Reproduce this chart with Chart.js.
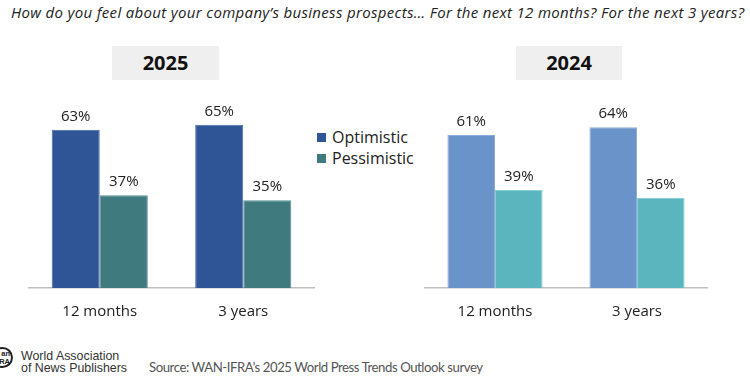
<!DOCTYPE html>
<html>
<head>
<meta charset="utf-8">
<script src="https://cdn.jsdelivr.net/npm/chart.js@4/dist/chart.umd.min.js"></script>
<style>
  html, body { margin:0; padding:0; background:#fff; }
  body { width:750px; height:379px; position:relative; overflow:hidden; font-family:'Open Sans', sans-serif; color:#222; }
  .abs { position:absolute; }
  #title { left:11px; top:2px; font-style:italic; font-size:15px; letter-spacing:0.33px; white-space:nowrap; color:#222; }
  .hdr { background:#EFEFEF; height:34px; line-height:34px; text-align:center; font-weight:bold; font-size:20px; color:#111; top:46px; }
  .leg { font-size:16px; white-space:nowrap; color:#222; }
  .sw { display:inline-block; width:9px; height:9px; margin-right:6px; vertical-align:middle; position:relative; top:-1px; }
  #source { left:149px; top:359px; font-family:Lato, sans-serif; font-size:13.2px; letter-spacing:-0.45px; color:#555; white-space:nowrap; }
  #logoCircle { left:-8px; top:347px; width:17px; height:17px; border:2px solid #222; border-radius:50%; font-family:'Liberation Sans', Arial, sans-serif; font-weight:bold; font-size:7.5px; line-height:7.5px; color:#222; text-align:right; }
  #logoText { left:21px; top:350px; font-family:'Liberation Sans', Arial, sans-serif; font-size:12.4px; line-height:12px; color:#333; white-space:nowrap; }
</style>
</head>
<body>
<div id="title" class="abs"></div>
<div id="hdr0" class="abs hdr" style="left:112px; width:107px;"></div>
<div id="hdr1" class="abs hdr" style="left:516px; width:106px;"></div>
<div id="legend" class="abs" style="left:317px; top:126px;"></div>
<div class="abs" style="left:28px; top:0; width:287px; height:347px;"><canvas id="c2025"></canvas></div>
<div class="abs" style="left:424px; top:0; width:284px; height:347px;"><canvas id="c2024"></canvas></div>
<div id="logoCircle" class="abs"><div style="padding:1px 1px 0 0;">an<br>RA</div></div>
<div id="logoText" class="abs">World Association<br>of News Publishers</div>
<div id="source" class="abs"></div>
<script>
const titleText = 'How do you feel about your company\u2019s business prospects\u2026 For the next 12 months? For the next 3 years?';
const sourceText = 'Source: WAN-IFRA\u2019s 2025 World Press Trends Outlook survey';
const categories = ['12 months', '3 years'];
const seriesNames = ['Optimistic', 'Pessimistic'];
const panelTitles = ['2025', '2024'];
const optimistic2025 = [63, 65];
const pessimistic2025 = [37, 35];
const optimistic2024 = [61, 64];
const pessimistic2024 = [39, 36];

const colors2025 = ['#2F5597', '#3F7B7E'];
const borders2025 = ['#4A6CA8', '#5A9093'];
const colors2024 = ['#6A93CA', '#5BB5BF'];
const borders2024 = ['#8CADD8', '#85CDD3'];

document.getElementById('title').textContent = titleText;
document.getElementById('source').textContent = sourceText;
document.getElementById('hdr0').textContent = panelTitles[0];
document.getElementById('hdr1').textContent = panelTitles[1];

const leg = document.getElementById('legend');
seriesNames.forEach((n, i) => {
  const d = document.createElement('div');
  d.className = 'leg';
  d.style.height = '21px';
  d.innerHTML = '<span class="sw" style="background:' + colors2025[i] + '"></span>' + n;
  leg.appendChild(d);
});

const labelPlugin = {
  id: 'valueLabels',
  afterDatasetsDraw(chart) {
    const ctx = chart.ctx;
    ctx.save();
    ctx.font = '15px "Open Sans"';
    ctx.fillStyle = '#222';
    ctx.textAlign = 'center';
    ctx.textBaseline = 'alphabetic';
    chart.data.datasets.forEach((ds, di) => {
      chart.getDatasetMeta(di).data.forEach((el, i) => {
        ctx.fillText(ds.data[i] + '%', el.x, el.y - 9);
      });
    });
    ctx.restore();
  }
};

function makeChart(id, opt, pess, colors, borders) {
  return new Chart(document.getElementById(id), {
    type: 'bar',
    data: {
      labels: categories,
      datasets: [
        { label: seriesNames[0], data: opt, backgroundColor: colors[0], borderColor: borders[0], borderWidth: 1 },
        { label: seriesNames[1], data: pess, backgroundColor: colors[1], borderColor: borders[1], borderWidth: 1 }
      ]
    },
    options: {
      responsive: true,
      maintainAspectRatio: false,
      animation: false,
      layout: { padding: { top: 37, bottom: 11, left: 0, right: 0 } },
      categoryPercentage: 0.67,
      barPercentage: 1.0,
      plugins: { legend: { display: false }, tooltip: { enabled: false } },
      scales: {
        x: {
          grid: { display: false, drawTicks: false },
          border: { display: true, color: '#BFBFBF', width: 1.5 },
          ticks: { color: '#222', font: { family: 'Open Sans', size: 15 }, padding: 15 }
        },
        y: { display: false, min: 0, max: 100 }
      }
    },
    plugins: [labelPlugin]
  });
}
makeChart('c2025', optimistic2025, pessimistic2025, colors2025, borders2025);
makeChart('c2024', optimistic2024, pessimistic2024, colors2024, borders2024);
</script>
</body>
</html>
